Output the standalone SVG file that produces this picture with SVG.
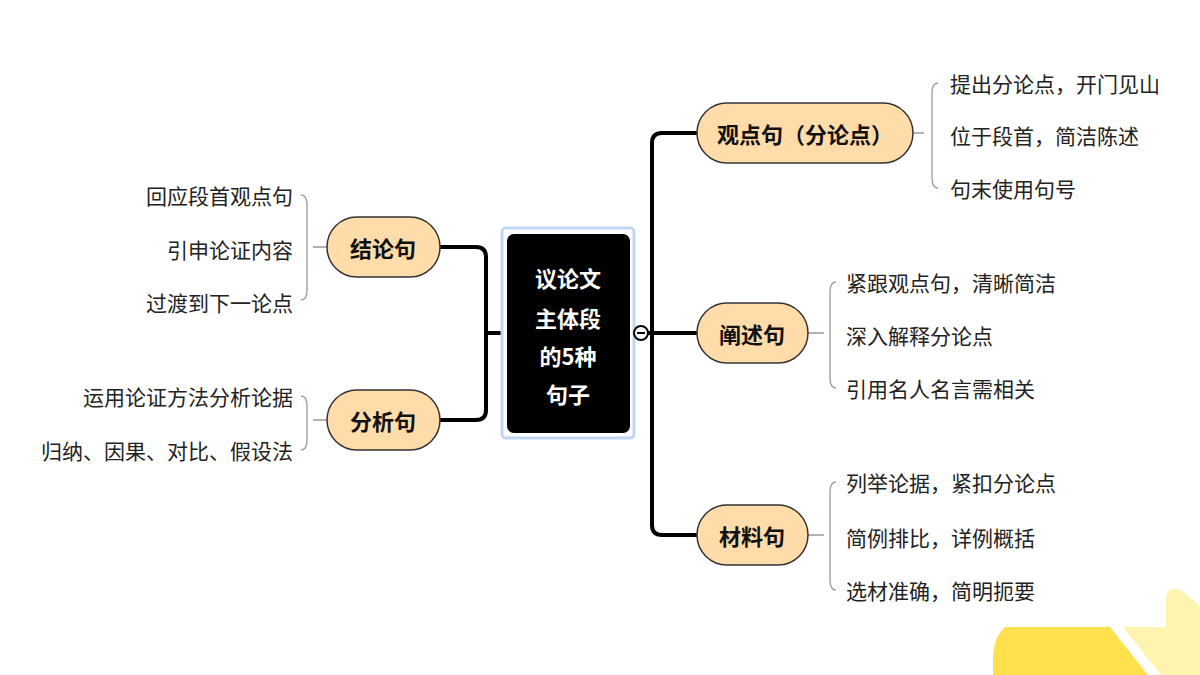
<svg xmlns="http://www.w3.org/2000/svg" width="1200" height="675" viewBox="0 0 1200 675">
<style>
.n{fill:#FFDCAA;stroke:#333;stroke-width:1.5}
.nt{font-family:"Noto Sans CJK SC",sans-serif;font-weight:bold;font-size:22px;fill:#111;text-anchor:middle;dominant-baseline:central}
.lf{font-family:"Noto Sans CJK SC",sans-serif;font-size:21px;fill:#222;dominant-baseline:central}
.r{text-anchor:end}
.c{fill:none;stroke:#000;stroke-width:4}
.b{fill:none;stroke:#999;stroke-width:1.3}
</style>
<rect width="1200" height="675" fill="#fff"/>
<path d="M1005 627 H1110 L1148 675 H993 V660 Q993 638 1005 627Z" fill="#FFE14D"/>
<path d="M1123 627 H1166 V600 Q1166 585 1180 590 Q1192 598 1200 607 V675 H1161Z" fill="#FFF3B0"/>
<g id="connectors">
<path class="c" d="M440 247 H476 Q486 247 486 257 V410 Q486 420 476 420 H440 M486 333 H503"/>
<path class="c" d="M648 333 H697 M697 133 H662 Q652 133 652 143 V525 Q652 535 662 535 H697"/>
<path class="b" d="M913 133 H924 M938 83 Q932 83 932 93 V178 Q932 188 938 188"/>
<path class="b" d="M808 333 H824 M836 282 Q830 282 830 292 V378 Q830 388 836 388"/>
<path class="b" d="M808 535 H824 M836 482 Q830 482 830 492 V580 Q830 590 836 590"/>
<path class="b" d="M327 247 H313 M301 195 Q307 195 307 205 V290 Q307 300 301 300"/>
<path class="b" d="M327 420 H313 M301 396 Q307 396 307 406 V440 Q307 450 301 450"/>
</g>
<g id="center">
<rect x="502" y="228" width="132" height="210" rx="4" fill="#fff" stroke="#BFD7F5" stroke-width="3"/>
<rect x="507" y="234" width="123" height="199" rx="7" fill="#000"/>
<text class="nt" style="fill:#fff" x="568" y="277">议论文</text>
<text class="nt" style="fill:#fff" x="568" y="317">主体段</text>
<text class="nt" style="fill:#fff" x="568" y="355">的5种</text>
<text class="nt" style="fill:#fff" x="568" y="393">句子</text>
<circle cx="641" cy="333" r="7" fill="#fff" stroke="#000" stroke-width="2"/>
<line x1="637" y1="333" x2="645" y2="333" stroke="#000" stroke-width="2"/>
</g>
<g id="n1"><rect class="n" x="697" y="103" width="216" height="60" rx="30"/><text class="nt" x="805" y="133">观点句（分论点）</text>
<text class="lf" x="950" y="83">提出分论点，开门见山</text><text class="lf" x="950" y="135">位于段首，简洁陈述</text><text class="lf" x="950" y="188">句末使用句号</text></g>
<g id="n2"><rect class="n" x="697" y="303" width="111" height="60" rx="30"/><text class="nt" x="752" y="333">阐述句</text>
<text class="lf" x="846" y="282">紧跟观点句，清晰简洁</text><text class="lf" x="846" y="335">深入解释分论点</text><text class="lf" x="846" y="388">引用名人名言需相关</text></g>
<g id="n3"><rect class="n" x="697" y="505" width="111" height="60" rx="30"/><text class="nt" x="752" y="535">材料句</text>
<text class="lf" x="846" y="482">列举论据，紧扣分论点</text><text class="lf" x="846" y="537">简例排比，详例概括</text><text class="lf" x="846" y="590">选材准确，简明扼要</text></g>
<g id="n4"><rect class="n" x="327" y="217" width="113" height="60" rx="30"/><text class="nt" x="383" y="247">结论句</text>
<text class="lf r" x="293" y="195">回应段首观点句</text><text class="lf r" x="293" y="249">引申论证内容</text><text class="lf r" x="293" y="302">过渡到下一论点</text></g>
<g id="n5"><rect class="n" x="327" y="390" width="113" height="60" rx="30"/><text class="nt" x="383" y="420">分析句</text>
<text class="lf r" x="293" y="396">运用论证方法分析论据</text><text class="lf r" x="293" y="450">归纳、因果、对比、假设法</text></g>
</svg>
